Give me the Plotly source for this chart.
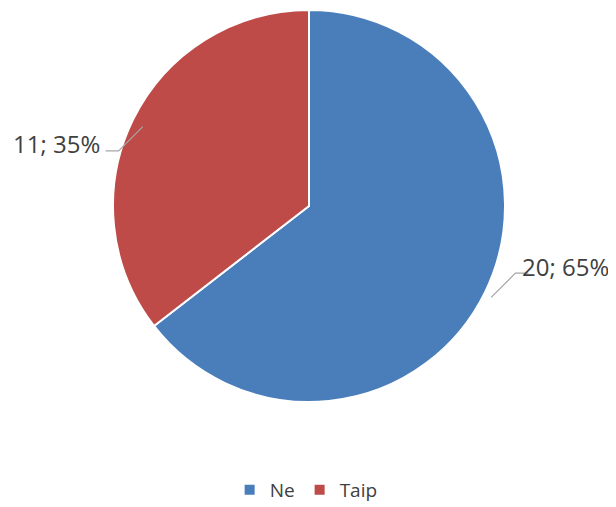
import math
import plotly.graph_objects as go

labels = ["Ne", "Taip"]
values = [20, 11]
colors = ["#4A7EBB", "#BE4B48"]

W, H = 616, 507
cx, cy, r = 309, 204, 194  # target pie geometry in pixels
# small correction for plotly's internal pie padding
dcx, dcy, dr = -8, -6, 2

fig = go.Figure(go.Pie(
    labels=labels, values=values, sort=False, direction="clockwise", rotation=0,
    marker=dict(colors=colors, line=dict(color="white", width=2)),
    textinfo="none", hoverinfo="label+value+percent",
    domain=dict(x=[(cx + dcx - r - dr) / W, (cx + dcx + r + dr) / W],
                y=[1 - (cy + dcy + r + dr) / H, 1 - (cy + dcy - r - dr) / H]),
))

total = sum(values)
cum = 0
shapes, annotations = [], []
for lab, v in zip(labels, values):
    mid = (cum + v / 2) / total * 2 * math.pi
    cum += v
    sx, sy = math.sin(mid), -math.cos(mid)
    px0, py0 = cx + r * sx, cy + r * sy
    side = 1 if sx >= 0 else -1
    ang = mid - math.radians(9)
    px1, py1 = cx + 1.07 * r * math.sin(ang), cy - 1.07 * r * math.cos(ang)
    px2 = px1 + side * 13
    pts = [(px0, py0), (px1, py1), (px2, py1)]
    path = "M " + " L ".join(f"{x / W},{1 - y / H}" for x, y in pts)
    shapes.append(dict(type="path", xref="paper", yref="paper", path=path,
                       line=dict(color="#A6A6A6", width=1.2)))
    pct = round(v / total * 100)
    tx = px2 + (-8 if side > 0 else -4)
    annotations.append(dict(
        x=tx / W, y=1 - (py1 - 7) / H, xref="paper", yref="paper",
        text=f"{v}; {pct}%", showarrow=False,
        xanchor="left" if side > 0 else "right", yanchor="middle",
        font=dict(size=24, color="#404040", family="Open Sans")))

fig.update_layout(
    width=W, height=H, margin=dict(l=0, r=0, t=0, b=0),
    paper_bgcolor="white", plot_bgcolor="white",
    shapes=shapes, annotations=annotations,
    showlegend=True,
    legend=dict(orientation="h", x=0.484, xanchor="center", y=6 / H, yanchor="bottom",
                font=dict(size=19, color="#404040", family="Open Sans"), itemwidth=30,
                traceorder="normal"),
)
fig.write_html("out.html")
